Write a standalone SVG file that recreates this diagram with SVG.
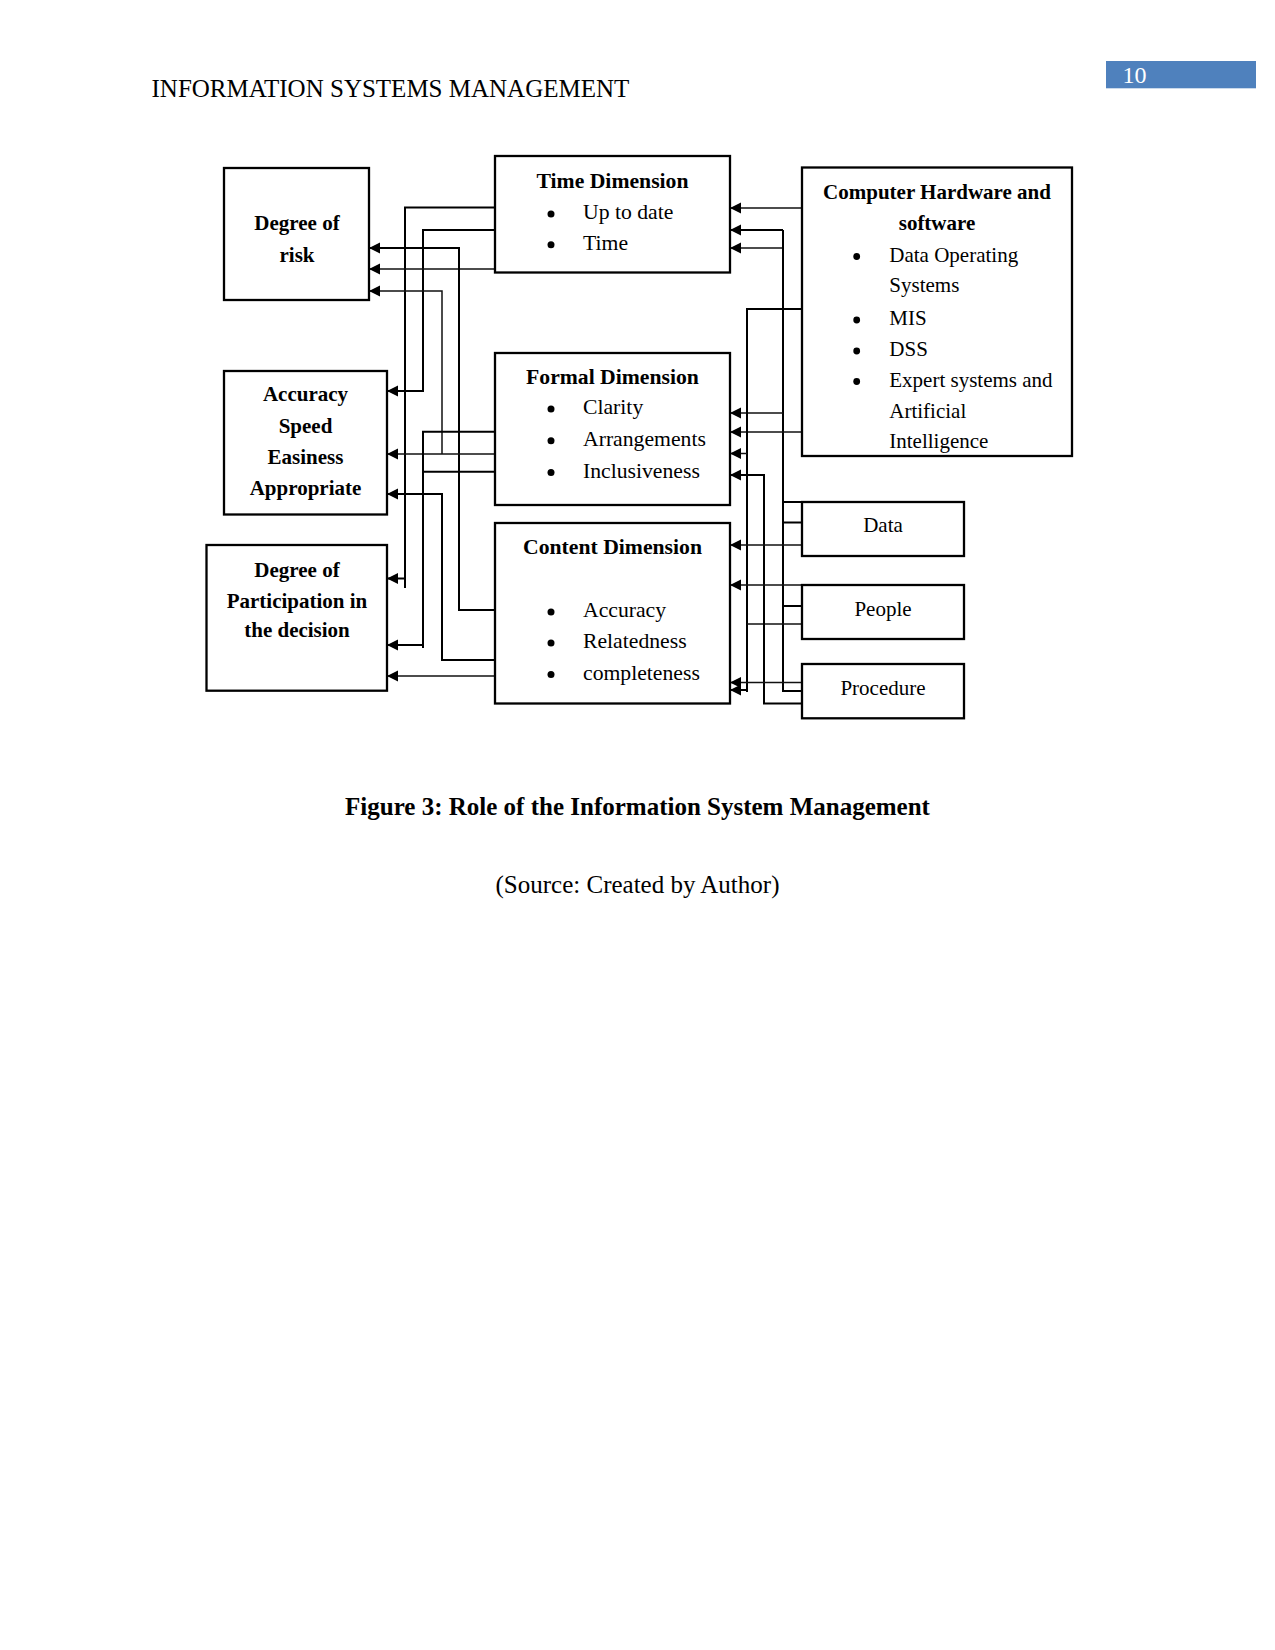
<svg xmlns="http://www.w3.org/2000/svg" width="1275" height="1650" viewBox="0 0 1275 1650">
<style>
text{font-family:"Liberation Serif","Times New Roman",serif;fill:#000}
.box{fill:#fff;stroke:#000;stroke-width:2.3}
.b{font-weight:bold;font-size:21px;text-anchor:middle}
.bt{font-weight:bold;font-size:21.7px;text-anchor:middle}
.r{font-size:21.7px}
.hr{font-size:21px}
.m{font-size:21px;text-anchor:middle}
.c{fill:none;stroke:#000;stroke-width:2}
.t{fill:none;stroke:#111;stroke-width:1.5}
.a{marker-end:url(#ah)}
</style>
<defs>
<marker id="ah" markerUnits="userSpaceOnUse" markerWidth="12" markerHeight="12" refX="11" refY="5.5" orient="auto">
<path d="M0,0 L11,5.5 L0,11 z" fill="#000"/>
</marker>
</defs>
<rect width="1275" height="1650" fill="#fff"/>
<text x="151.5" y="97.3" font-size="25">INFORMATION SYSTEMS MANAGEMENT</text>
<rect x="1106" y="61" width="150" height="27.3" fill="#4F81BD"/>
<text x="1122.5" y="83" font-size="24" style="fill:#fff">10</text>

<g id="connectors">
<!-- left side -->
<path class="c" d="M495,207.5 H405 V588"/>
<path class="c a" d="M405,578.5 H387"/>
<path class="c a" d="M495,230 H423 V391 H387"/>
<path class="t a" d="M495,269 H369"/>
<path class="c a" d="M495,610 H459 V248 H369"/>
<path class="t a" d="M442,454 V291 H369"/>
<path class="t a" d="M495,454 H387"/>
<path class="c a" d="M495,660 H442 V494 H387"/>
<path class="c" d="M495,431.7 H423 V648"/>
<path class="c" d="M495,471.7 H423"/>
<path class="c a" d="M423,645 H387"/>
<path class="t a" d="M495,676 H387"/>
<!-- right side -->
<path class="t a" d="M802,208 H730"/>
<path class="c a" d="M783,230 H730"/>
<path class="t a" d="M783,248 H730"/>
<path class="c" d="M783,230 V691 H802"/>
<path class="t a" d="M783,413 H730"/>
<path class="c" d="M783,502 H802 M783,522.5 H802 M783,606 H802"/>
<path class="t a" d="M802,432 H730"/>
<path class="c" d="M802,309 H747 V692"/>
<path class="t a" d="M747,453.5 H730"/>
<path class="t" d="M747,624 H802"/>
<path class="c a" d="M747,690 H730"/>
<path class="c a" d="M802,703.5 H764 V475 H730"/>
<path class="t a" d="M802,545 H730"/>
<path class="t a" d="M802,585 H730"/>
<path class="t a" d="M802,682.5 H730"/>
</g>

<g id="degree-of-risk">
<rect class="box" x="224" y="168" width="145" height="132"/>
<text class="b" x="297" y="230">Degree of</text>
<text class="b" x="297" y="262">risk</text>
</g>

<g id="accuracy">
<rect class="box" x="224" y="371" width="163" height="143.5"/>
<text class="b" x="305.5" y="401">Accuracy</text>
<text class="b" x="305.5" y="432.7">Speed</text>
<text class="b" x="305.5" y="464.3">Easiness</text>
<text class="b" x="305.5" y="495.3">Appropriate</text>
</g>

<g id="participation">
<rect class="box" x="206.5" y="545" width="180.5" height="145.7"/>
<text class="b" x="297" y="576.7">Degree of</text>
<text class="b" x="297" y="607.7">Participation in</text>
<text class="b" x="297" y="637.3">the decision</text>
</g>

<g id="time-dimension">
<rect class="box" x="495" y="156" width="235" height="116.5"/>
<text class="bt" x="612.5" y="187.7">Time Dimension</text>
<circle cx="551" cy="214" r="3.5"/>
<text class="r" x="583" y="219.3">Up to date</text>
<circle cx="551" cy="244.7" r="3.5"/>
<text class="r" x="583" y="250">Time</text>
</g>

<g id="formal-dimension">
<rect class="box" x="495" y="353" width="235" height="152"/>
<text class="bt" x="612.5" y="384.3">Formal Dimension</text>
<circle cx="551" cy="409" r="3.5"/>
<text class="r" x="583" y="414">Clarity</text>
<circle cx="551" cy="440.7" r="3.5"/>
<text class="r" x="583" y="446">Arrangements</text>
<circle cx="551" cy="472.5" r="3.5"/>
<text class="r" x="583" y="477.7">Inclusiveness</text>
</g>

<g id="content-dimension">
<rect class="box" x="495" y="523" width="235" height="180.5"/>
<text class="bt" x="612.5" y="554">Content Dimension</text>
<circle cx="551" cy="612" r="3.5"/>
<text class="r" x="583" y="617.3">Accuracy</text>
<circle cx="551" cy="643" r="3.5"/>
<text class="r" x="583" y="648.3">Relatedness</text>
<circle cx="551" cy="674.5" r="3.5"/>
<text class="r" x="583" y="680">completeness</text>
</g>

<g id="computer-hardware-software">
<rect class="box" x="802" y="167.5" width="270" height="288.5"/>
<text class="b" x="937" y="199.3">Computer Hardware and</text>
<text class="b" x="937" y="230">software</text>
<circle cx="856.7" cy="256.5" r="3.4"/>
<text class="hr" x="889.3" y="261.7">Data Operating</text>
<text class="hr" x="889.3" y="291.7">Systems</text>
<circle cx="856.7" cy="320" r="3.4"/>
<text class="hr" x="889.3" y="325">MIS</text>
<circle cx="856.7" cy="351" r="3.4"/>
<text class="hr" x="889.3" y="356">DSS</text>
<circle cx="856.7" cy="381.5" r="3.4"/>
<text class="hr" x="889.3" y="386.7">Expert systems and</text>
<text class="hr" x="889.3" y="418.3">Artificial</text>
<text class="hr" x="889.3" y="448.3">Intelligence</text>
</g>

<g id="data">
<rect class="box" x="802" y="502" width="162" height="54"/>
<text class="m" x="883" y="531.7">Data</text>
</g>

<g id="people">
<rect class="box" x="802" y="585" width="162" height="54"/>
<text class="m" x="883" y="615.7">People</text>
</g>

<g id="procedure">
<rect class="box" x="802" y="664" width="162" height="54.3"/>
<text class="m" x="883" y="695">Procedure</text>
</g>

<text x="637.5" y="815" font-size="25" font-weight="bold" text-anchor="middle">Figure 3: Role of the Information System Management</text>
<text x="637.5" y="893.3" font-size="25" text-anchor="middle">(Source: Created by Author)</text>
</svg>
